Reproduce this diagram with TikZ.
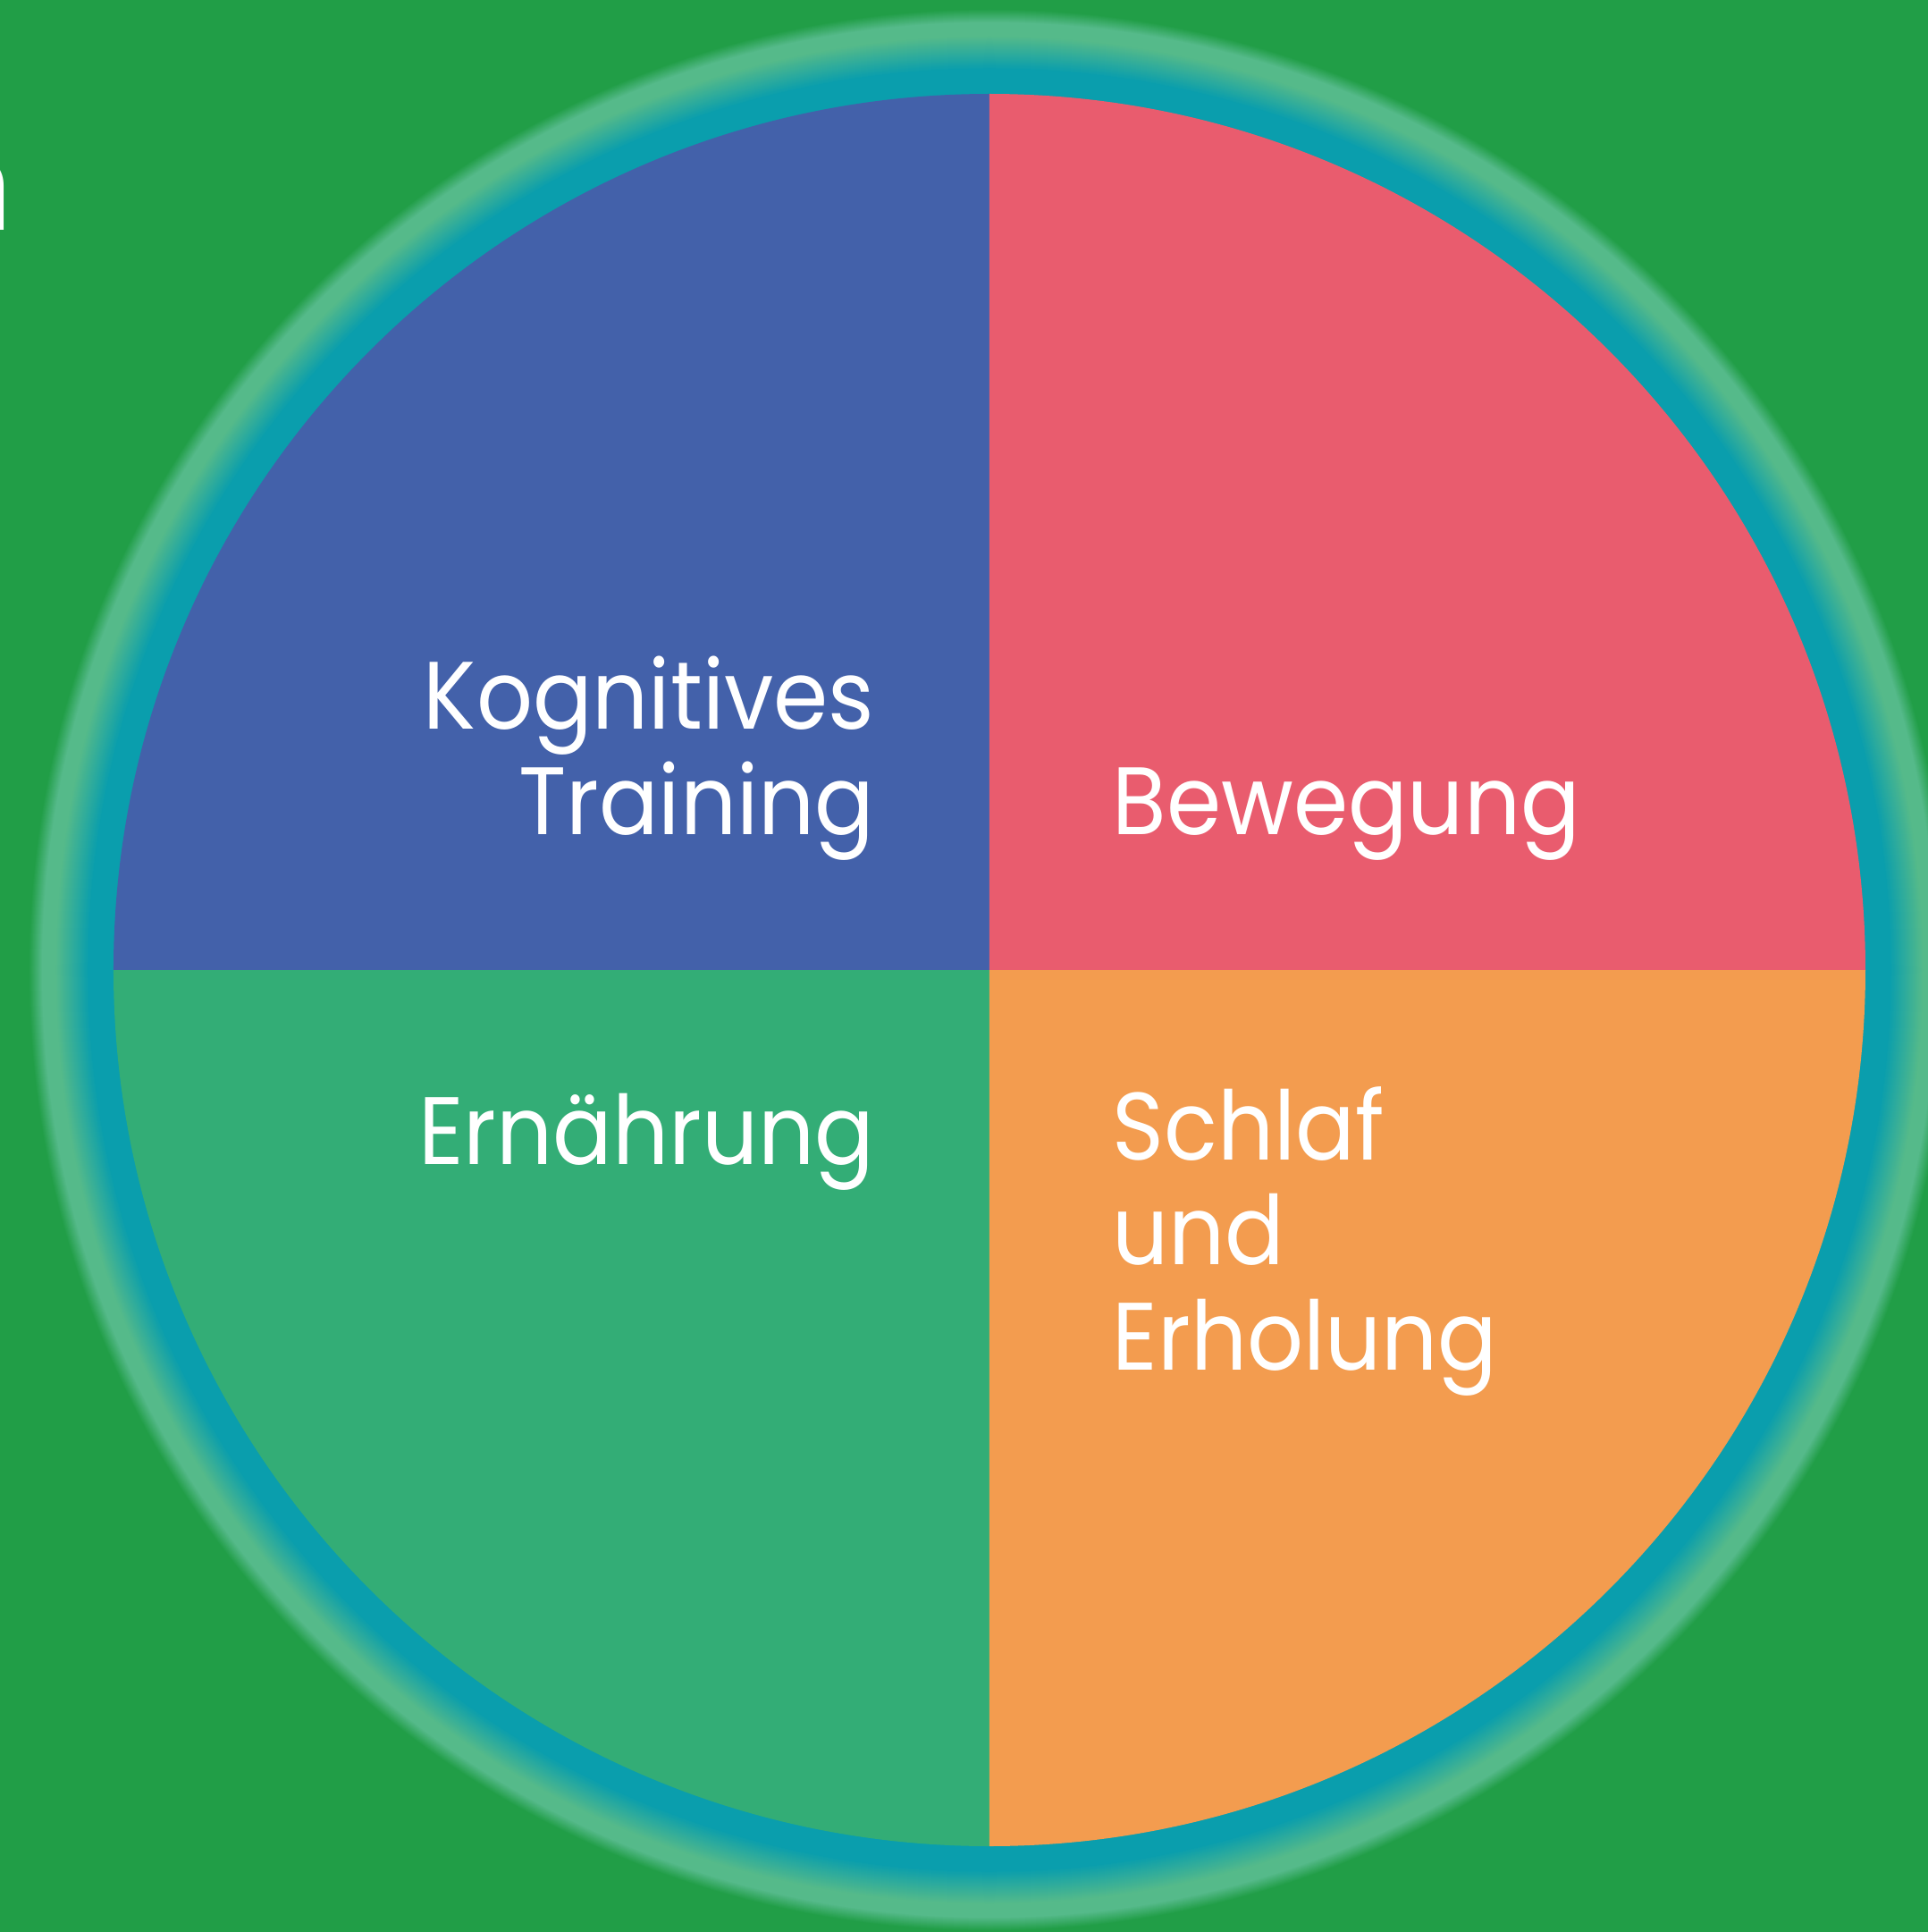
\documentclass[tikz,border=0pt]{standalone}
\usepackage{fontspec}
\setmainfont{Poppins}[FakeStretch=0.92]
\newfontfamily\titlefont{Carlito}
\usetikzlibrary{calc}
\definecolor{bggreen}{HTML}{219E47}
\definecolor{glowgreen}{HTML}{55BA8A}
\definecolor{ringteal}{HTML}{0A9EAD}
\definecolor{kogblue}{HTML}{4361AA}
\definecolor{bewred}{HTML}{E95C6E}
\definecolor{nutgreen}{HTML}{33AD76}
\definecolor{sleeporange}{HTML}{F39C4F}

\begin{document}
\begin{tikzpicture}[
  quadtext/.style={text=white, inner sep=0pt, font=\fontsize{30.5}{33.3}\selectfont}
]
% Radii
\def\rIn{9.8}     % coloured disc
\def\rTeal{10.08} % solid teal ring
\def\rGlow{10.45} % light glow band
\def\rOut{10.75}  % glow fades into background
% Circle center
\coordinate (C) at (0,0);
% Page and background
\useasboundingbox (-11.07,-10.76) rectangle (10.50,10.85);
\fill[bggreen] (-11.07,-10.76) rectangle (10.50,10.85);
% Cut-off title letter at the left edge
\begin{scope}
\clip (-11.07,-10.76) rectangle (10.50,10.85);
\node[text=white, inner sep=0pt, anchor=base east, font=\titlefont\fontsize{46}{50}\selectfont] (title) at (-10.92,8.27) {n};
\end{scope}
% Glow round the ring
\foreach \i in {0,...,30}{
  \pgfmathtruncatemacro\p{100*\i/30}
  \fill[glowgreen!\p!bggreen] (C) circle ({\rOut-0.005*\i});
}
\fill[glowgreen] (C) circle (10.60);
\foreach \i in {0,...,37}{
  \pgfmathtruncatemacro\p{100*\i/37}
  \fill[ringteal!\p!glowgreen] (C) circle ({\rGlow-0.01*\i});
}
\fill[ringteal] (C) circle (\rTeal);
% Four quadrants
\fill[kogblue] (C) -- (180:\rIn) arc[start angle=180, end angle=90, radius=\rIn] -- cycle;
\fill[bewred] (C) -- (90:\rIn) arc[start angle=90, end angle=0, radius=\rIn] -- cycle;
\fill[nutgreen] (C) -- (180:\rIn) arc[start angle=180, end angle=270, radius=\rIn] -- cycle;
\fill[sleeporange] (C) -- (270:\rIn) arc[start angle=270, end angle=360, radius=\rIn] -- cycle;
% Quadrant labels (base = last line)
\node[quadtext, anchor=base east, align=right] (kog) at (-1.28,1.52) {Kognitives\\Training};
\node[quadtext, anchor=base west, align=left] (bew) at (1.37,1.52) {Bewegung};
\node[quadtext, anchor=base east, align=right] (ern) at (-1.28,-2.17) {Ernährung};
\node[quadtext, anchor=base west, align=left] (sleep) at (1.37,-4.47) {Schlaf\\und\\Erholung};
\end{tikzpicture}
\end{document}
